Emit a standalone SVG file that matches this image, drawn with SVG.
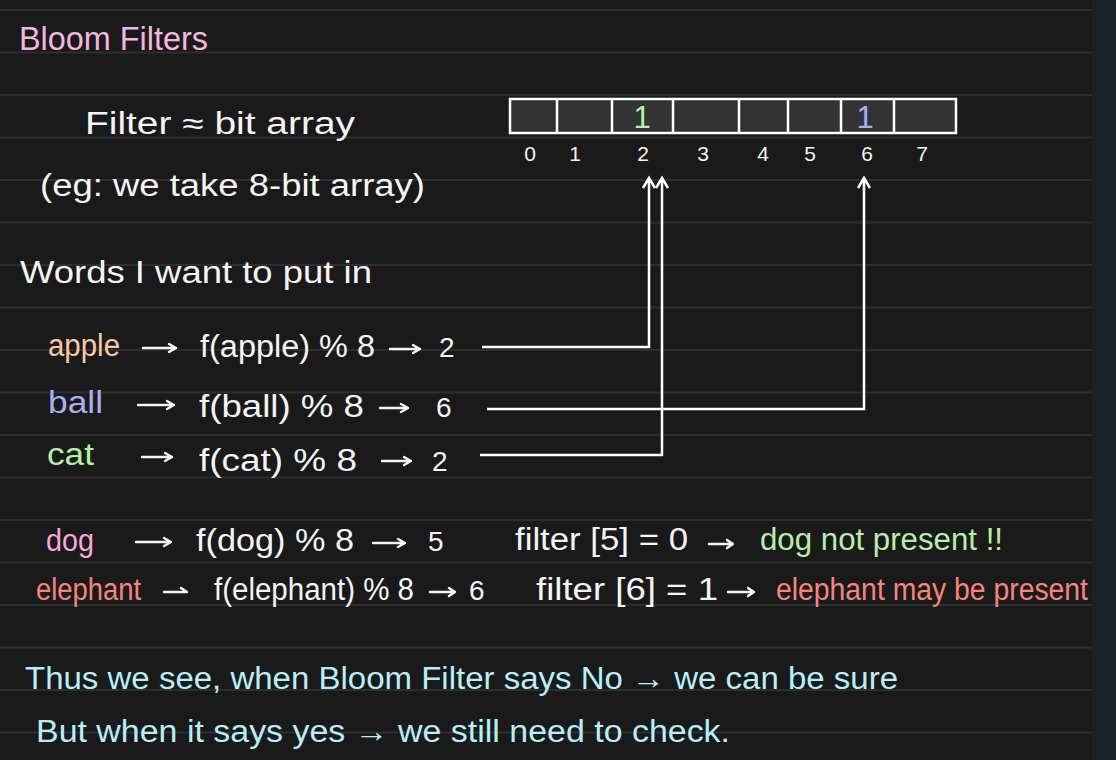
<svg xmlns="http://www.w3.org/2000/svg" width="1116" height="760" viewBox="0 0 1116 760">
<defs>
<style>
text{font-family:"Liberation Sans","DejaVu Sans",sans-serif;font-size:31px;fill:#f4f4f4}
.t{font-size:34px;fill:#f3b6df}
.pe{fill:#f7c8a6}
.bl{fill:#a9b0f2}
.gr{fill:#b6efa8}
.pk{fill:#f5a9d6}
.rd{fill:#f5857a}
.cy{fill:#b8eef8}
.d{font-size:28px}
.idx{font-size:21px;text-anchor:middle}
.rule{stroke:#2e2e2e;stroke-width:2}
.cell{fill:#333333;stroke:#ffffff;stroke-width:2.5}
.con{fill:none;stroke:#ffffff;stroke-width:2.5;stroke-linejoin:miter}
.arr{fill:none;stroke:#f4f4f4;stroke-width:2.4;stroke-linecap:round;stroke-linejoin:round}
</style>
</defs>
<rect width="1116" height="760" fill="#1a1a1a"/>
<rect x="1092" y="0" width="24" height="760" fill="#1c2129"/>
<g id="rules">
<line class="rule" x1="0" y1="10" x2="1092" y2="10"/>
<line class="rule" x1="0" y1="52.5" x2="1092" y2="52.5"/>
<line class="rule" x1="0" y1="95" x2="1092" y2="95"/>
<line class="rule" x1="0" y1="137.5" x2="1092" y2="137.5"/>
<line class="rule" x1="0" y1="180" x2="1092" y2="180"/>
<line class="rule" x1="0" y1="222.5" x2="1092" y2="222.5"/>
<line class="rule" x1="0" y1="265" x2="1092" y2="265"/>
<line class="rule" x1="0" y1="307.5" x2="1092" y2="307.5"/>
<line class="rule" x1="0" y1="350" x2="1092" y2="350"/>
<line class="rule" x1="0" y1="392.5" x2="1092" y2="392.5"/>
<line class="rule" x1="0" y1="435" x2="1092" y2="435"/>
<line class="rule" x1="0" y1="477.5" x2="1092" y2="477.5"/>
<line class="rule" x1="0" y1="520" x2="1092" y2="520"/>
<line class="rule" x1="0" y1="562.5" x2="1092" y2="562.5"/>
<line class="rule" x1="0" y1="605" x2="1092" y2="605"/>
<line class="rule" x1="0" y1="647.5" x2="1092" y2="647.5"/>
<line class="rule" x1="0" y1="690" x2="1092" y2="690"/>
<line class="rule" x1="0" y1="732.5" x2="1092" y2="732.5"/>
</g>

<g id="title"><text class="t" x="19" y="50" textLength="189" lengthAdjust="spacingAndGlyphs">Bloom Filters</text></g>
<g id="definition">
<text x="85" y="134" textLength="270" lengthAdjust="spacingAndGlyphs">Filter ≈ bit array</text>
<text x="40" y="196" textLength="385" lengthAdjust="spacingAndGlyphs">(eg: we take 8-bit array)</text>
</g>
<g id="words-heading"><text x="20" y="283" textLength="352" lengthAdjust="spacingAndGlyphs">Words I want to put in</text></g>

<g id="bit-array">
<rect class="cell" x="510" y="99" width="446" height="34"/>
<line class="cell" x1="557" y1="99" x2="557" y2="133"/>
<line class="cell" x1="612" y1="99" x2="612" y2="133"/>
<line class="cell" x1="673" y1="99" x2="673" y2="133"/>
<line class="cell" x1="739" y1="99" x2="739" y2="133"/>
<line class="cell" x1="788" y1="99" x2="788" y2="133"/>
<line class="cell" x1="841" y1="99" x2="841" y2="133"/>
<line class="cell" x1="894" y1="99" x2="894" y2="133"/>
<text class="gr" x="642" y="128" font-size="27" text-anchor="middle">1</text>
<text class="bl" x="865" y="128" font-size="27" text-anchor="middle">1</text>
<text class="idx" x="530" y="161">0</text>
<text class="idx" x="575" y="161">1</text>
<text class="idx" x="643" y="161">2</text>
<text class="idx" x="703" y="161">3</text>
<text class="idx" x="763" y="161">4</text>
<text class="idx" x="810" y="161">5</text>
<text class="idx" x="867" y="161">6</text>
<text class="idx" x="922" y="161">7</text>
</g>

<g id="row-apple">
<text class="pe" x="48" y="356" textLength="72" lengthAdjust="spacingAndGlyphs">apple</text>
<path class="arr" d="M143 348H176M169 344L176 348L169 352"/>
<text x="200" y="357" textLength="175" lengthAdjust="spacingAndGlyphs">f(apple) % 8</text>
<path class="arr" d="M390 349H420M413 345L420 349L413 353"/>
<text class="d" x="439" y="357">2</text>
</g>
<g id="row-ball">
<text class="bl" x="48" y="413" textLength="55" lengthAdjust="spacingAndGlyphs">ball</text>
<path class="arr" d="M138 405H174M167 401L174 405L167 409"/>
<text x="199" y="417" textLength="165" lengthAdjust="spacingAndGlyphs">f(ball) % 8</text>
<path class="arr" d="M380 408H408M401 404L408 408L401 412"/>
<text class="d" x="436" y="417">6</text>
</g>
<g id="row-cat">
<text class="gr" x="47" y="465" textLength="47" lengthAdjust="spacingAndGlyphs">cat</text>
<path class="arr" d="M142 457H172M165 453L172 457L165 461"/>
<text x="199" y="471" textLength="158" lengthAdjust="spacingAndGlyphs">f(cat) % 8</text>
<path class="arr" d="M382 461H411M404 457L411 461L404 465"/>
<text class="d" x="432" y="471">2</text>
</g>
<g id="row-dog">
<text class="pk" x="46" y="551" textLength="48" lengthAdjust="spacingAndGlyphs">dog</text>
<path class="arr" d="M136 542H171M164 538L171 542L164 546"/>
<text x="196" y="551" textLength="158" lengthAdjust="spacingAndGlyphs">f(dog) % 8</text>
<path class="arr" d="M373 543H405M398 539L405 543L398 547"/>
<text class="d" x="428" y="551">5</text>
<text x="515" y="550" textLength="173" lengthAdjust="spacingAndGlyphs">filter [5] = 0</text>
<path class="arr" d="M709 544H733M727 540L733 544L727 548"/>
<text class="gr" x="760" y="550" textLength="243" lengthAdjust="spacingAndGlyphs">dog not present !!</text>
</g>
<g id="row-elephant">
<text class="rd" x="36" y="600" textLength="105" lengthAdjust="spacingAndGlyphs">elephant</text>
<path class="arr" d="M164 592H187M181 588L187 592"/>
<text x="214" y="600" textLength="200" lengthAdjust="spacingAndGlyphs">f(elephant) % 8</text>
<path class="arr" d="M430 592H455M449 588L455 592L449 596"/>
<text class="d" x="469" y="600">6</text>
<text x="536" y="600" textLength="182" lengthAdjust="spacingAndGlyphs">filter [6] = 1</text>
<path class="arr" d="M728 592H754M748 588L754 592L748 596"/>
<text class="rd" x="776" y="600" textLength="312" lengthAdjust="spacingAndGlyphs">elephant may be present</text>
</g>
<g id="conclusion">
<text class="cy" x="25" y="689" textLength="873" lengthAdjust="spacingAndGlyphs">Thus we see, when Bloom Filter says No → we can be sure</text>
<text class="cy" x="36" y="742" textLength="694" lengthAdjust="spacingAndGlyphs">But when it says yes → we still need to check.</text>
</g>

<g id="connectors">
<polyline class="con" points="482,347 649,347 649,179"/>
<polyline class="con" points="487,409 864,409 864,179"/>
<polyline class="con" points="480,455 662,455 662,179"/>
<polyline class="con" points="643,188 649,178 655,188"/>
<polyline class="con" points="656,188 662,178 668,188"/>
<polyline class="con" points="858,188 864,178 870,188"/>
</g>
</svg>
